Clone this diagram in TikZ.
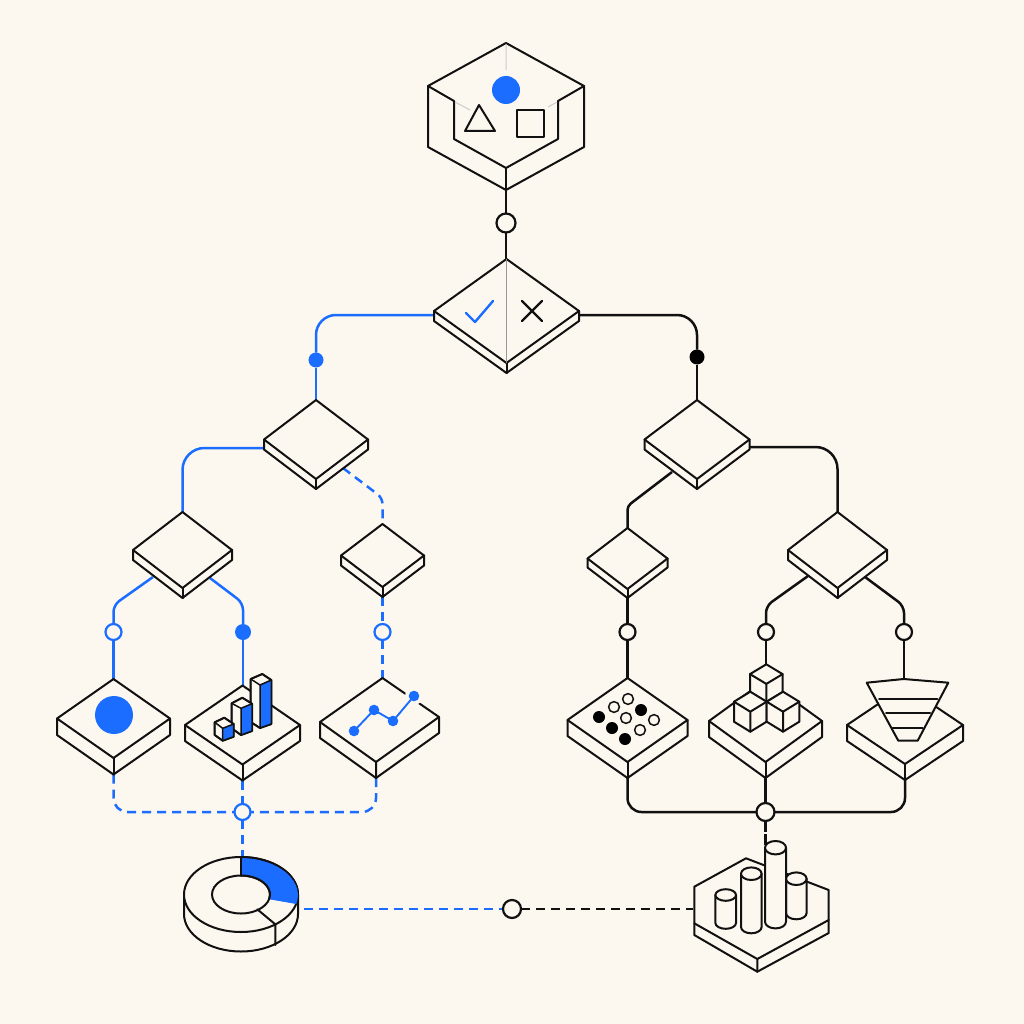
\documentclass[tikz,border=0pt]{standalone}
\usetikzlibrary{shapes.geometric,backgrounds}
\definecolor{paper}{HTML}{FDF8EF}
\definecolor{brand}{HTML}{1A6DFF}
\definecolor{ink}{HTML}{111111}
\tikzset{
  x=1pt,y=-1pt,
  shape line/.style={draw=ink,line width=2pt,line join=round,line cap=round},
  fine line/.style={draw=ink,line width=1.5pt,line join=round,line cap=round},
  face/.style={shape line,fill=paper},
  topface/.style={diamond,face,inner sep=0pt,outer sep=0pt,shape aspect=1},
  blueline/.style={draw=brand,line width=2.5pt},
  blackline/.style={draw=ink,line width=2.5pt},
  bluedash/.style={blueline,dash pattern=on 9pt off 6pt},
  blackdash/.style={blackline,dash pattern=on 9pt off 6pt},
  hollow/.style={circle,draw=ink,fill=paper,line width=2.2pt,inner sep=0pt,outer sep=0pt,minimum size=#1},
  hollowblue/.style={circle,draw=brand,fill=paper,line width=2.2pt,inner sep=0pt,outer sep=0pt,minimum size=#1},
  solidblue/.style={circle,fill=brand,inner sep=0pt,outer sep=0pt,minimum size=#1},
  solidblack/.style={circle,fill=black,inner sep=0pt,outer sep=0pt,minimum size=#1},
  faint/.style={draw=black!20,line width=1pt},
  midline/.style={draw=black!40,line width=1.2pt},
}
% name, cx, cy, half width, half height, thickness
\newcommand{\slab}[6]{%
  \draw[face] ({#2-#4},#3) -- ({#2-#4},{#3+#6}) -- (#2,{#3+#5+#6}) -- ({#2+#4},{#3+#6}) -- ({#2+#4},#3) -- cycle;
  \draw[shape line] (#2,{#3+#5}) -- (#2,{#3+#5+#6});
  \node[topface,minimum width={2*#4*1pt},minimum height={2*#5*1pt}] (#1) at (#2,#3) {};
  \coordinate (#1-foot) at (#2,{#3+#5+#6});
}
% top x, top y, half width, half height, height
\newcommand{\cube}[5]{%
  \draw[face] (#1,#2) -- ({#1+#3},{#2+#4}) -- ({#1+#3},{#2+#4+#5}) -- (#1,{#2+2*#4+#5}) -- ({#1-#3},{#2+#4+#5}) -- ({#1-#3},{#2+#4}) -- cycle;
  \draw[shape line] ({#1-#3},{#2+#4}) -- (#1,{#2+2*#4}) -- ({#1+#3},{#2+#4}) (#1,{#2+2*#4}) -- (#1,{#2+2*#4+#5});
}
% cx, top y, bottom y, rx, ry
\newcommand{\cyl}[5]{%
  \draw[face] ({#1-#4},#2) -- ({#1-#4},#3) arc[start angle=180,end angle=0,x radius=#4,y radius=#5] -- ({#1+#4},#2) -- cycle;
  \draw[face] (#1,#2) circle[x radius=#4,y radius=#5];
}
\begin{document}
\begin{tikzpicture}
\useasboundingbox (0,0) rectangle (1024,1024);
\begin{scope}[on background layer]
  \fill[paper] (0,0) rectangle (1024,1024);
\end{scope}

%% ---- anchors used by connectors
\coordinate (hex-foot) at (506,190);
\coordinate (dec-left) at (435,315);
\coordinate (dec-right) at (580,315);
\coordinate (la-left) at (264,448);
\coordinate (la-under) at (343,468);
\coordinate (la-knee) at (382.5,498);
\coordinate (lb-l) at (153,577);
\coordinate (lb-lk) at (113.5,605);
\coordinate (lb-r) at (210,578);
\coordinate (lb-rk) at (243,603);
\coordinate (ra-right) at (750,447);
\coordinate (ra-under) at (672,472);
\coordinate (ra-knee) at (627.5,506);
\coordinate (rc-l) at (808,576);
\coordinate (rc-lk) at (766,606);
\coordinate (rc-r) at (865,577);
\coordinate (rc-rk) at (904,606);
\coordinate (bars-in) at (243,686);
\coordinate (line-in) at (382.5,678);
\coordinate (line-foot) at (376,778);
\coordinate (cubes-in) at (766,664);
\coordinate (funnel-in) at (904,679);
\coordinate (donut-out) at (304,909);
\coordinate (base-in) at (693,909);
\coordinate (base-top) at (765.5,846);
\coordinate (dec-in) at (506,259);
\coordinate (donut-in) at (242.5,857);

%% ---- top hexagon
\draw[face] (506,43) -- (584,86) -- (584,147) -- (506,190) -- (428,147) -- (428,86) -- cycle;
\draw[shape line] (428,86) -- (454,101) -- (454,139) -- (506,168) -- (558,139) -- (558,101) -- (584,86);
\draw[shape line] (506,168) -- (506,190);
\draw[faint] (506,44) -- (506,70) (455,102) -- (470,110) (557,102) -- (548,107);
\fill[brand] (506,90) circle[radius=14];
\draw[shape line] (479,105) -- (465,131) -- (495,131) -- cycle;
\draw[shape line] (517,110) rectangle (544,137);

%% ---- decision
\slab{dec}{506.5}{311}{72.5}{52}{10}
\draw[midline] (dec.north) -- (dec.south);
\draw[draw=brand,line width=2.4pt,line cap=round,line join=round] (466,313) -- (475,322) -- (493,301);
\draw[shape line,line width=2.4pt] (522,301) -- (542,321) (542,301) -- (522,321);

%% ---- branch slabs
\slab{la}{316}{439.5}{52}{39.5}{10}
\slab{lb}{182.5}{550}{49.5}{38}{10}
\slab{lc}{382.5}{555.5}{41.5}{31.5}{10}
\slab{ra}{697}{439.5}{52.5}{39.5}{10}
\slab{rb}{627.5}{558.5}{40}{30.5}{9}
\slab{rc}{837.5}{550}{49.5}{38}{10}

%% ---- item A: disc
\slab{ia}{113.5}{718.5}{56.5}{39.5}{16.5}
\fill[brand] (114,715) circle[radius=19];

%% ---- item B: bars
\slab{ib}{242.5}{725}{57.5}{39.5}{16}
\draw[face] (250.7,679) -- (262.3,674) -- (271.3,680) -- (271.3,724) -- (260,728) -- (250.7,722) -- cycle;
\fill[brand] (260,685) -- (271.3,680) -- (271.3,724) -- (260,728) -- cycle;
\draw[fine line] (250.7,679) -- (262.3,674) -- (271.3,680) -- (271.3,724) -- (260,728) -- (250.7,722) -- cycle;
\draw[fine line] (250.7,679) -- (260,685) -- (271.3,680) (260,685) -- (260,728);
\draw[face] (231.7,703.3) -- (242.3,697.7) -- (252,703.7) -- (252,731) -- (241,735) -- (231.7,728.3) -- cycle;
\fill[brand] (241,708.3) -- (252,703.7) -- (252,731) -- (241,735) -- cycle;
\draw[fine line] (231.7,703.3) -- (242.3,697.7) -- (252,703.7) -- (252,731) -- (241,735) -- (231.7,728.3) -- cycle;
\draw[fine line] (231.7,703.3) -- (241,708.3) -- (252,703.7) (241,708.3) -- (241,735);
\draw[face] (214.7,722.3) -- (224.3,717.7) -- (233.7,724) -- (233.7,736.7) -- (222.7,740.7) -- (214.7,735) -- cycle;
\fill[brand] (222.7,728.3) -- (233.7,724) -- (233.7,736.7) -- (222.7,740.7) -- cycle;
\draw[fine line] (214.7,722.3) -- (224.3,717.7) -- (233.7,724) -- (233.7,736.7) -- (222.7,740.7) -- (214.7,735) -- cycle;
\draw[fine line] (214.7,722.3) -- (222.7,728.3) -- (233.7,724) (222.7,728.3) -- (222.7,740.7);

%% ---- item C: line chart
\draw[face] (382.5,678) -- (439,717) -- (439,733) -- (376,778) -- (320,738) -- (320,722) -- cycle;
\draw[shape line] (320,722) -- (376,762) -- (439,717) (376,762) -- (376,778);
\fill[paper] (414,696) circle[radius=9];
\draw[draw=brand,line width=1.9pt] (354,731) -- (374,710) -- (393,721) -- (414,696);
\fill[brand] (354,731) circle[radius=5.3] (374,710) circle[radius=5.3] (393,721) circle[radius=5.3] (414,696) circle[radius=5.3];

%% ---- item D: dots
\slab{id}{627.5}{720}{60}{42}{16}
\fill[black] (599,717) circle[radius=6] (612,728) circle[radius=6] (625,739) circle[radius=6] (641,710) circle[radius=6];
\foreach \px/\py in {614/707,628/699,626/718,640/730,654/720}
  \draw[fine line] (\px,\py) circle[radius=5.4];

%% ---- item E: cubes
\slab{ie}{765.5}{721}{56.5}{41}{16}
\cube{766.3}{664.3}{16.3}{9.8}{18}
\cube{750.3}{691.7}{16.3}{10}{20}
\cube{783}{691.7}{16.3}{10}{20}

%% ---- item F: funnel
\slab{if}{905}{725}{58}{39}{16}
\draw[face] (866.7,682.7) -- (903.7,679) -- (948.3,682.7) -- (917.7,740.7) -- (898.3,740.7) -- cycle;
\draw[shape line] (879,699.3) -- (937.3,699.3) (886,713.3) -- (930,713.3) (892.7,728) -- (922.7,728);

%% ---- donut
\draw[face] (184,894.5) -- (184,914) arc[start angle=180,end angle=0,x radius=57,y radius=37.5] -- (298,894.5) -- cycle;
\node[ellipse,face,inner sep=0pt,outer sep=0pt,minimum width=114pt,minimum height=75pt] (donut) at (241,894.5) {};
\fill[brand] (241,857) arc[start angle=-90,end angle=14,x radius=57,y radius=37.5] -- (269.1,899.1) arc[start angle=14,end angle=-90,x radius=29,y radius=19] -- cycle;
\draw[shape line] (241,857) arc[start angle=-90,end angle=14,x radius=57,y radius=37.5];
\draw[face] (241,894.5) circle[x radius=29,y radius=19];
\fill[brand] (241,875.5) arc[start angle=-90,end angle=14,x radius=29,y radius=19] -- (269.1,899.1) -- (296.3,904) arc[start angle=14,end angle=-90,x radius=56,y radius=36.5] -- cycle;
\draw[shape line] (241,875.5) arc[start angle=-90,end angle=14,x radius=29,y radius=19];
\draw[shape line] (241,857) -- (241,875.5);
\draw[shape line] (257.3,909.3) -- (275.3,924.3) -- (275.3,945);

%% ---- base with cylinders
\draw[face] (746,858.3) -- (828.7,890) -- (828.7,933) -- (757.3,971.7) -- (694.3,935) -- (694.3,886.7) -- cycle;
\draw[shape line] (694.3,923.3) -- (757.3,959) -- (828.7,920) (757.3,959) -- (757.3,971.7);
\cyl{796.3}{878.7}{913}{10.3}{6.3}
\cyl{775.5}{847.7}{921.7}{10.5}{6.7}
\cyl{751.3}{873.7}{927}{10.3}{6.3}
\cyl{725.7}{895}{923}{10.3}{5.8}

%% ---- connector dots
\node[hollow=19pt] (n-top) at (506,223) {};
\node[solidblue=15pt] (n-yes) at (316,360) {};
\node[solidblack=15pt] (n-no) at (697,357) {};
\node[hollowblue=16pt] (n-a) at (113.5,632) {};
\node[solidblue=16pt] (n-b) at (243,632) {};
\node[hollowblue=16pt] (n-c) at (382.5,632) {};
\node[hollow=16pt] (n-d) at (627.5,632) {};
\node[hollow=16pt] (n-e) at (766,632) {};
\node[hollow=16pt] (n-f) at (904,632) {};
\node[hollowblue=16pt] (hub-l) at (242.5,812) {};
\node[hollow=18pt] (hub-r) at (765.5,812) {};
\node[hollow=18pt] (n-join) at (512,909) {};

%% ---- connectors
\begin{pgfonlayer}{background}
\draw[blackline] (hex-foot) -- (n-top) -- (dec-in);
\draw[blueline,rounded corners=20pt] (dec-left) -| (n-yes);
\draw[blueline] (n-yes) -- (la.north);
\draw[blackline,rounded corners=20pt] (dec-right) -| (n-no);
\draw[blackline] (n-no) -- (ra.north);
\draw[blueline,rounded corners=22pt] (la-left) -| (lb.north);
\draw[bluedash,rounded corners=6pt] (la-under) -- (la-knee) -- (lc.north);
\draw[blueline,rounded corners=7pt] (lb-l) -- (lb-lk) -- (n-a);
\draw[blueline,rounded corners=7pt] (lb-r) -- (lb-rk) -- (n-b);
\draw[blueline] (n-a) -- (ia.north);
\draw[blueline] (n-b) -- (bars-in);
\draw[bluedash] (lc-foot) -- (n-c);
\draw[bluedash] (n-c) -- (line-in);
\draw[blackline,rounded corners=22pt] (ra-right) -| (rc.north);
\draw[blackline,rounded corners=4pt] (ra-under) -- (ra-knee) -- (rb.north);
\draw[blackline,rounded corners=7pt] (rc-l) -- (rc-lk) -- (n-e);
\draw[blackline,rounded corners=7pt] (rc-r) -- (rc-rk) -- (n-f);
\draw[blackline] (rb-foot) -- (n-d) -- (id.north);
\draw[blackline] (n-e) -- (cubes-in);
\draw[blackline] (n-f) -- (funnel-in);
\draw[bluedash,rounded corners=14pt] (ia-foot) |- (hub-l);
\draw[bluedash,rounded corners=14pt] (line-foot) |- (hub-l);
\draw[bluedash] (ib-foot) -- (hub-l);
\draw[bluedash] (hub-l) -- (donut-in);
\draw[blackline,rounded corners=14pt] (id-foot) |- (hub-r);
\draw[blackline,rounded corners=14pt] (if-foot) |- (hub-r);
\draw[blackline] (ie-foot) -- (hub-r);
\draw[blackline,dash pattern=on 11pt off 2pt] (hub-r) -- (base-top);
\draw[bluedash] (donut-out) -- (n-join);
\draw[blackdash] (n-join) -- (base-in);
\end{pgfonlayer}
\end{tikzpicture}
\end{document}
